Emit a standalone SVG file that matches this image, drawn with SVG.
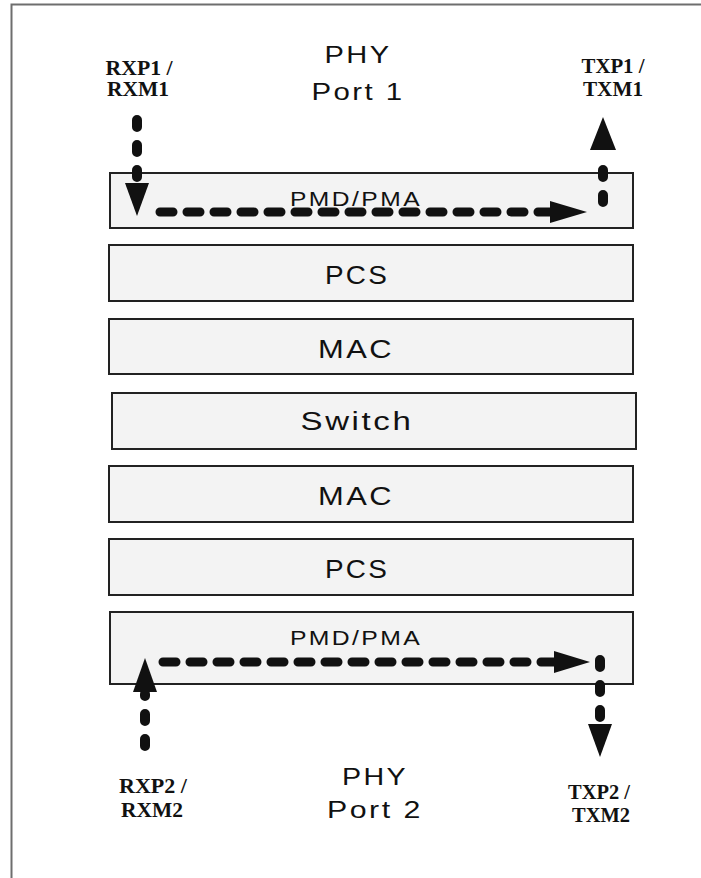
<svg xmlns="http://www.w3.org/2000/svg" width="701" height="878" viewBox="0 0 701 878">
<style>
.frame{fill:none;stroke:#6e6e6e;stroke-width:2}
.box{fill:#f3f3f3;stroke:#222;stroke-width:2}
.lbl{font-family:"Liberation Sans",Arial,sans-serif;fill:#111;text-anchor:middle;letter-spacing:2px}
.pin{font-family:"Liberation Serif","Times New Roman",serif;font-weight:bold;font-size:20px;fill:#111;text-anchor:middle}
.dh{fill:none;stroke:#111;stroke-width:9;stroke-linecap:round;stroke-dasharray:13 14}
.dv{fill:none;stroke:#111;stroke-width:10;stroke-linecap:round;stroke-dasharray:7 18}
.head{fill:#111}
</style>
<path class="frame" d="M11.5 878 V4.5 H701"/>
<g id="title1">
<text class="lbl" x="358" y="63" font-size="24" textLength="67" lengthAdjust="spacingAndGlyphs">PHY</text>
<text class="lbl" x="358" y="100" font-size="24" textLength="93" lengthAdjust="spacingAndGlyphs">Port 1</text>
</g>
<g id="title2">
<text class="lbl" x="375" y="785" font-size="24" textLength="66" lengthAdjust="spacingAndGlyphs">PHY</text>
<text class="lbl" x="375" y="818" font-size="24" textLength="96" lengthAdjust="spacingAndGlyphs">Port 2</text>
</g>
<g id="pins">
<text class="pin" x="139" y="75" textLength="67" lengthAdjust="spacingAndGlyphs">RXP1 /</text>
<text class="pin" x="138" y="96" textLength="62" lengthAdjust="spacingAndGlyphs">RXM1</text>
<text class="pin" x="613" y="73" textLength="63" lengthAdjust="spacingAndGlyphs">TXP1 /</text>
<text class="pin" x="613" y="96" textLength="60" lengthAdjust="spacingAndGlyphs">TXM1</text>
<text class="pin" x="153" y="793" textLength="68" lengthAdjust="spacingAndGlyphs">RXP2 /</text>
<text class="pin" x="152" y="817" textLength="62" lengthAdjust="spacingAndGlyphs">RXM2</text>
<text class="pin" x="599" y="799" textLength="62" lengthAdjust="spacingAndGlyphs">TXP2 /</text>
<text class="pin" x="601" y="822" textLength="58" lengthAdjust="spacingAndGlyphs">TXM2</text>
</g>
<g id="pmdpma1">
<rect class="box" x="110" y="173" width="523" height="55"/>
<text class="lbl" x="356" y="206" font-size="20" textLength="132" lengthAdjust="spacingAndGlyphs">PMD/PMA</text>
</g>
<g id="pcs1">
<rect class="box" x="109" y="245" width="524" height="56"/>
<text class="lbl" x="357" y="284" font-size="25" textLength="64" lengthAdjust="spacingAndGlyphs">PCS</text>
</g>
<g id="mac1">
<rect class="box" x="109" y="319" width="524" height="55"/>
<text class="lbl" x="356" y="358" font-size="25" textLength="76" lengthAdjust="spacingAndGlyphs">MAC</text>
</g>
<g id="switch">
<rect class="box" x="112" y="393" width="524" height="56"/>
<text class="lbl" x="357" y="430" font-size="25" textLength="113" lengthAdjust="spacingAndGlyphs">Switch</text>
</g>
<g id="mac2">
<rect class="box" x="109" y="466" width="524" height="56"/>
<text class="lbl" x="356" y="505" font-size="25" textLength="76" lengthAdjust="spacingAndGlyphs">MAC</text>
</g>
<g id="pcs2">
<rect class="box" x="109" y="539" width="524" height="56"/>
<text class="lbl" x="357" y="578" font-size="25" textLength="64" lengthAdjust="spacingAndGlyphs">PCS</text>
</g>
<g id="pmdpma2">
<rect class="box" x="110" y="612" width="523" height="72"/>
<text class="lbl" x="356" y="645" font-size="21" textLength="132" lengthAdjust="spacingAndGlyphs">PMD/PMA</text>
</g>
<g id="connectors">
<path class="dv" d="M137 120 V182"/>
<polygon class="head" points="125,183 149,183 137,216"/>
<path class="dh" d="M160 212 H552"/>
<polygon class="head" points="550,201 550,223 587,212"/>
<path class="dv" d="M603 202 V152"/>
<polygon class="head" points="590,150 616,150 603,117"/>
<path class="dv" d="M145 746 V694"/>
<polygon class="head" points="133,692 157,692 145,658"/>
<path class="dh" d="M163 662 H556"/>
<polygon class="head" points="554,651 554,673 590,662"/>
<path class="dv" d="M600 660 V722"/>
<polygon class="head" points="588,724 612,724 600,757"/>
</g>
</svg>
